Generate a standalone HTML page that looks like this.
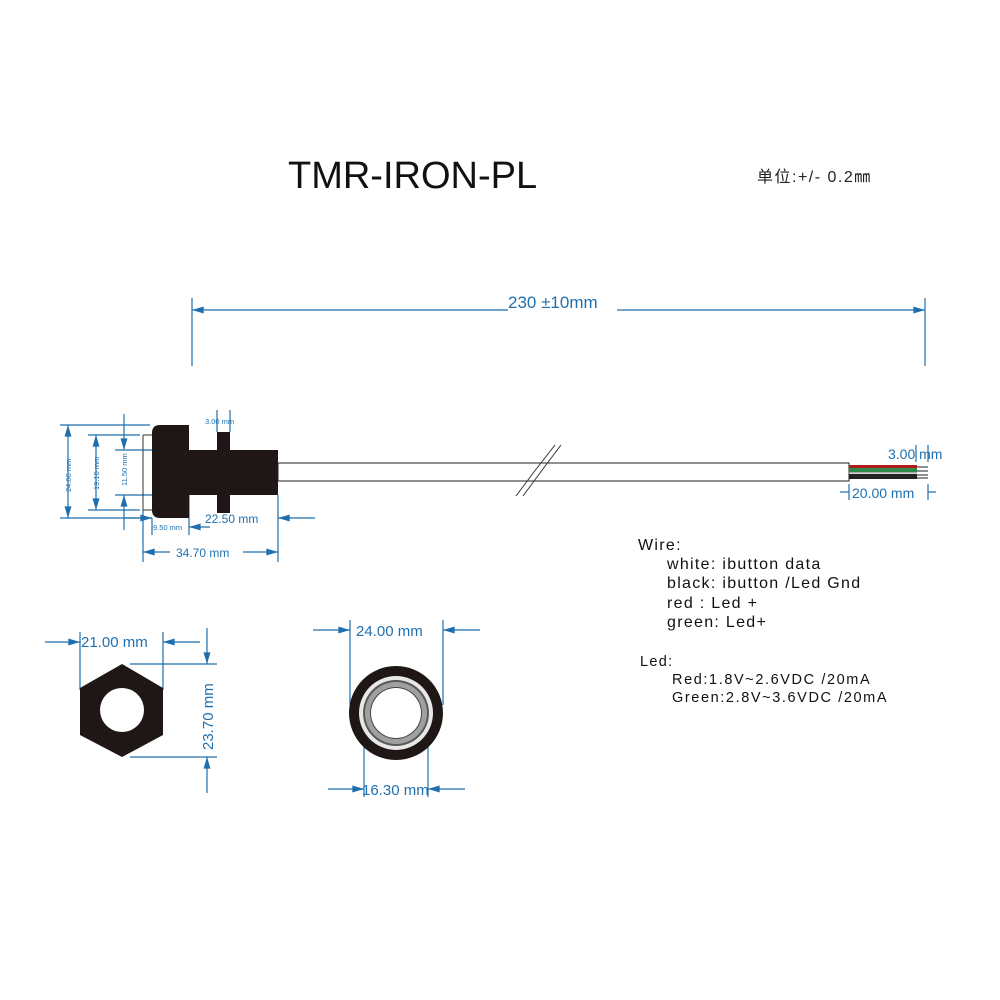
<!DOCTYPE html>
<html><head><meta charset="utf-8"><style>
html,body{margin:0;padding:0;background:#fff;}
svg{display:block;}
text{font-family:"Liberation Sans","Noto Sans CJK SC",sans-serif;}
</style></head><body>
<svg width="1000" height="1000" viewBox="0 0 1000 1000" xmlns="http://www.w3.org/2000/svg">
<defs>
<marker id="a" viewBox="0 0 10 6" refX="10" refY="3" markerWidth="12" markerHeight="7" markerUnits="userSpaceOnUse" orient="auto-start-reverse"><path d="M0,0 L10,3 L0,6 z" fill="#1f6fae"/></marker>
</defs>
<rect width="1000" height="1000" fill="#fff"/>
<text x="288" y="188" font-size="38" fill="#111">TMR-IRON-PL</text>
<text x="757" y="182" font-size="16" fill="#222" letter-spacing="1.5" font-family="'Liberation Serif','Noto Serif CJK SC',serif">单位:+/- 0.2㎜</text>

<g stroke="#1f6fae" stroke-width="1.2" fill="none">
<line x1="192" y1="298" x2="192" y2="366"/><line x1="925" y1="298" x2="925" y2="366"/>
<line x1="192" y1="310" x2="508" y2="310" marker-start="url(#a)"/>
<line x1="617" y1="310" x2="925" y2="310" marker-end="url(#a)"/>
<line x1="60" y1="425" x2="150" y2="425"/><line x1="60" y1="518" x2="152" y2="518"/>
<line x1="68" y1="425" x2="68" y2="518" marker-start="url(#a)" marker-end="url(#a)"/>
<line x1="88" y1="435" x2="140" y2="435"/><line x1="88" y1="510" x2="140" y2="510"/>
<line x1="96" y1="435" x2="96" y2="510" marker-start="url(#a)" marker-end="url(#a)"/>
<line x1="115" y1="450" x2="152" y2="450"/><line x1="115" y1="495" x2="152" y2="495"/>
<line x1="124" y1="414" x2="124" y2="450" marker-end="url(#a)"/>
<line x1="124" y1="530" x2="124" y2="495" marker-end="url(#a)"/>
<line x1="152" y1="518" x2="152" y2="535"/><line x1="189" y1="495" x2="189" y2="535"/>
<line x1="125" y1="518" x2="152" y2="518" marker-end="url(#a)"/>
<line x1="210" y1="527" x2="189" y2="527" marker-end="url(#a)"/>
<line x1="143" y1="510" x2="143" y2="562"/><line x1="278" y1="495" x2="278" y2="562"/>
<line x1="315" y1="518" x2="278" y2="518" marker-end="url(#a)"/>
<line x1="170" y1="552" x2="143" y2="552" marker-end="url(#a)"/>
<line x1="243" y1="552" x2="278" y2="552" marker-end="url(#a)"/>
<line x1="217" y1="410" x2="217" y2="432"/><line x1="230" y1="410" x2="230" y2="432"/>
<line x1="916" y1="445" x2="916" y2="462"/><line x1="928" y1="445" x2="928" y2="462"/>
<line x1="849" y1="484" x2="849" y2="500"/><line x1="928" y1="484" x2="928" y2="500"/>
<line x1="840" y1="492" x2="849" y2="492"/><line x1="928" y1="492" x2="936" y2="492"/>
<line x1="80" y1="632" x2="80" y2="690"/><line x1="163" y1="632" x2="163" y2="690"/>
<line x1="45" y1="642" x2="80" y2="642" marker-end="url(#a)"/>
<line x1="200" y1="642" x2="163" y2="642" marker-end="url(#a)"/>
<line x1="130" y1="664" x2="217" y2="664"/><line x1="130" y1="757" x2="217" y2="757"/>
<line x1="207" y1="628" x2="207" y2="664" marker-end="url(#a)"/>
<line x1="207" y1="793" x2="207" y2="757" marker-end="url(#a)"/>
<line x1="350" y1="620" x2="350" y2="705"/><line x1="443" y1="620" x2="443" y2="705"/>
<line x1="313" y1="630" x2="350" y2="630" marker-end="url(#a)"/>
<line x1="480" y1="630" x2="443" y2="630" marker-end="url(#a)"/>
<line x1="364" y1="720" x2="364" y2="797"/><line x1="428" y1="720" x2="428" y2="797"/>
<line x1="328" y1="789" x2="364" y2="789" marker-end="url(#a)"/>
<line x1="465" y1="789" x2="428" y2="789" marker-end="url(#a)"/>
</g>

<g fill="#1f6fae">
<text x="508" y="308" font-size="17">230 ±10mm</text>
<text x="205" y="424" font-size="7.5">3.00 mm</text>
<text transform="translate(71,492) rotate(-90)" font-size="7.5">24.00 mm</text>
<text transform="translate(99,490) rotate(-90)" font-size="7.5">19.10 mm</text>
<text transform="translate(127,486) rotate(-90)" font-size="7.5">11.50 mm</text>
<text x="153" y="530" font-size="7.5">9.50 mm</text>
<text x="205" y="523" font-size="12">22.50 mm</text>
<text x="176" y="557" font-size="12">34.70 mm</text>
<text x="888" y="459" font-size="14">3.00 mm</text>
<text x="852" y="498" font-size="14">20.00 mm</text>
<text x="81" y="647" font-size="15">21.00 mm</text>
<text transform="translate(213,750) rotate(-90)" font-size="15">23.70 mm</text>
<text x="356" y="636" font-size="15">24.00 mm</text>
<text x="362" y="795" font-size="15">16.30 mm</text>
</g>

<path d="M143,435 L152,435 M143,435 L143,510 L152,510" stroke="#333" stroke-width="1" fill="none"/>
<path d="M160,425 L189,425 L189,518 L160,518 Q152,518 152,510 L152,433 Q152,425 160,425 Z" fill="#1f1616"/>
<rect x="152" y="450" width="126" height="45" fill="#1f1616"/>
<rect x="217" y="432" width="13" height="81" fill="#1f1616"/>
<rect x="278" y="463" width="571" height="18" fill="#fff" stroke="#222" stroke-width="1"/>
<rect x="849" y="465" width="68" height="3" fill="#b01c1c"/>
<rect x="849" y="468" width="68" height="4" fill="#2f8a4a"/>
<rect x="849" y="472" width="68" height="1.5" fill="#aaa"/>
<rect x="849" y="474" width="68" height="5" fill="#222"/>
<g stroke="#222" stroke-width="1"><line x1="917" y1="467" x2="928" y2="467"/><line x1="917" y1="471" x2="928" y2="471"/><line x1="917" y1="475" x2="928" y2="475"/><line x1="917" y1="478" x2="928" y2="478"/></g>
<g stroke="#333" stroke-width="1" fill="none"><path d="M516,496 Q535,470 555,445"/><path d="M523,496 Q542,470 561,445"/></g>

<polygon points="122,664 163,688 163,735 122,757 80,735 80,688" fill="#1f1616"/>
<circle cx="122" cy="710" r="22" fill="#fff"/>
<circle cx="396" cy="713" r="47" fill="#1f1616"/>
<circle cx="396" cy="713" r="37" fill="#e8e8e8"/>
<circle cx="396" cy="713" r="33" fill="#5a5a5a"/>
<circle cx="396" cy="713" r="31" fill="#a0a0a0"/>
<circle cx="396" cy="713" r="26" fill="#444"/>
<circle cx="396" cy="713" r="25" fill="#fff"/>

<g fill="#111" font-size="16" letter-spacing="1.3">
<text x="638" y="550">Wire:</text>
<text x="667" y="569">white:  ibutton data</text>
<text x="667" y="588">black:  ibutton /Led Gnd</text>
<text x="667" y="608">red    :  Led +</text>
<text x="667" y="627">green:  Led+</text>
<text x="640" y="666" font-size="14.5">Led:</text>
<text x="672" y="684" font-size="14.5" letter-spacing="1.6">Red:1.8V~2.6VDC /20mA</text>
<text x="672" y="702" font-size="14.5" letter-spacing="1.6">Green:2.8V~3.6VDC /20mA</text>
</g>
</svg>
</body></html>
